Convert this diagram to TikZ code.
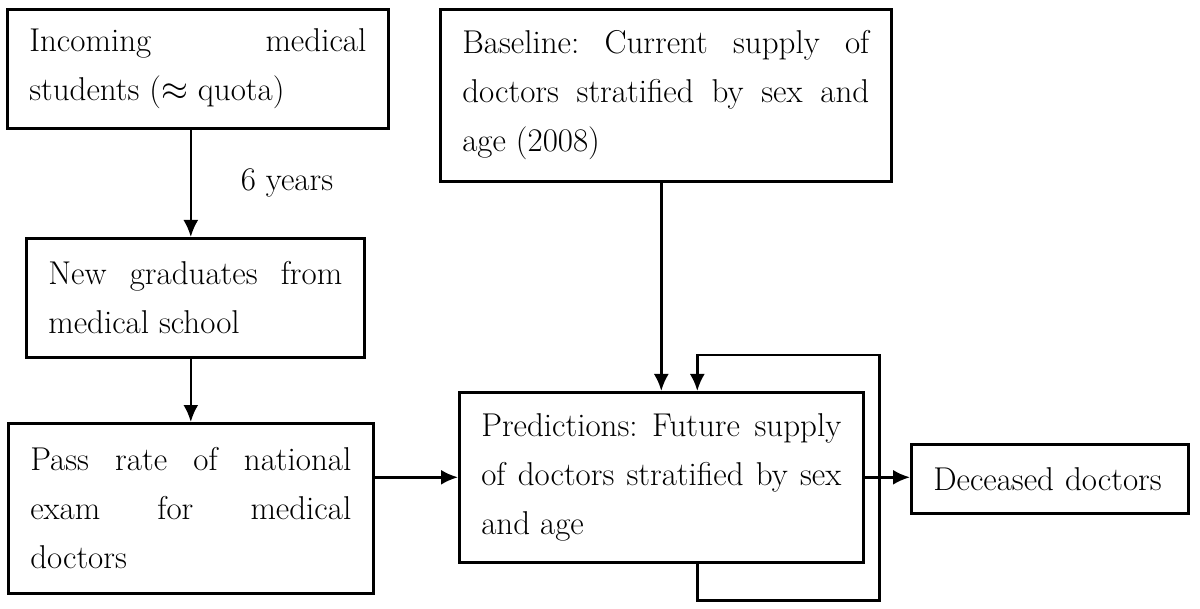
\documentclass[tikz,border=0pt]{standalone}
\usepackage{amsmath}
\usepackage{tikz}
\usetikzlibrary{arrows.meta,positioning,calc}

\tolerance=10000
\hyphenpenalty=10000
\frenchspacing

\begin{document}
\begin{tikzpicture}[x=0.5pt,y=-0.5pt,line width=1.3pt,
		box/.style={draw, anchor=north west, align=justify, inner xsep=11pt, inner ysep=4pt,
			font=\fontsize{16.5}{24.5}\selectfont},
		flow/.style={-{Latex[length=8.5pt,width=7.5pt]}}]
		\useasboundingbox (0,0) rectangle (1200,609);

		\node[box, text width=168.5pt, minimum height=59.5pt] (inc) at (6,8)
			{Incoming medical\linebreak students ($\approx$ quota)};
		\node[box, text width=203.5pt, minimum height=86pt] (base) at (439,8)
			{Baseline: Current supply of\linebreak doctors stratified by sex and\linebreak age (2008)};
		\node[box, text width=147pt, minimum height=59.5pt] (grad) at (25,237)
			{New graduates from\linebreak medical school};
		\node[box, text width=160.5pt, minimum height=85pt] (pass) at (7,422)
			{Pass rate of national\linebreak exam for medical\linebreak doctors};
		\node[box, text width=180pt, minimum height=85pt] (pred) at (458,391)
			{Predictions: Future supply\linebreak of doctors stratified by sex\linebreak and age};
		\node[box, align=left, text width=116.5pt, minimum height=34.5pt] (dead) at (910,443)
			{Deceased doctors};

		\coordinate (loopa) at ([xshift=18pt,yshift=-18.5pt]pred.south);
		\coordinate (loopb) at ([xshift=7.5pt,yshift=18pt]pred.north east);

		\draw[flow] (inc.south -| pass.north)--(grad.north -| pass.north)
			node[midway, right=21pt, font=\fontsize{16.5}{18}\selectfont] (yrs) {6 years};
		\draw[flow] (grad.south -| pass.north)--(pass.north);
		\draw[flow] (pass.east |- pred.west)--(pred.west);
		\draw[flow] (base.south -| pred.north)--(pred.north);
		\draw[flow] (pred.east)--(pred.east -| dead.west);
		\draw[flow] ([xshift=18pt]pred.south)--(loopa) -| (loopb) -| ([xshift=18pt]pred.north);
	\end{tikzpicture}
\end{document}
